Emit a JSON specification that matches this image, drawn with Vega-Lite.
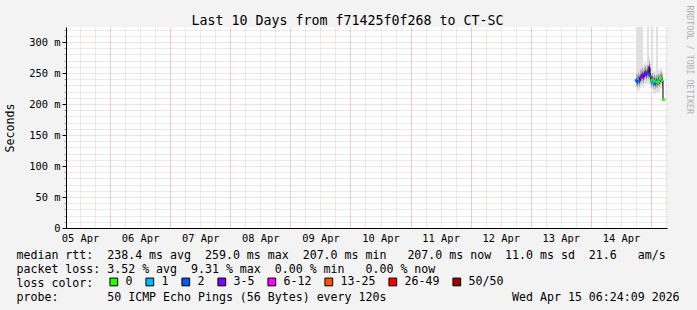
{
  "$schema": "https://vega.github.io/schema/vega-lite/v6.json",
  "width": 601,
  "height": 201,
  "autosize": {"type": "none"},
  "padding": {"left": 66, "top": 27, "right": 30, "bottom": 82},
  "background": "#f3f3f3",
  "config": {"view": {"fill": "#ffffff", "stroke": null}, "font": "DejaVu Sans Mono"},
  "title": {"text": "Last 10 Days from f71425f0f268 to CT-SC", "font": "DejaVu Sans Mono", "fontSize": 13.3, "fontWeight": "normal", "color": "#000000", "anchor": "middle", "frame": "group", "dx": -19, "offset": -22},
  "data": {
    "values": [
      {"t": "2026-04-14T18:00:00Z", "med": 238, "loss": "2", "lo": 222, "hi": 400, "m1": 229, "m2": 249, "i1": 234, "i2": 242},
      {"t": "2026-04-14T18:24:00Z", "med": 236, "loss": "2", "lo": 219, "hi": 400, "m1": 227, "m2": 247, "i1": 232, "i2": 240},
      {"t": "2026-04-14T18:48:00Z", "med": 240, "loss": "1", "lo": 224, "hi": 400, "m1": 231, "m2": 251, "i1": 236, "i2": 244},
      {"t": "2026-04-14T19:12:00Z", "med": 237, "loss": "2", "lo": 221, "hi": 400, "m1": 228, "m2": 248, "i1": 233, "i2": 241},
      {"t": "2026-04-14T19:36:00Z", "med": 242, "loss": "3-5", "lo": 225, "hi": 400, "m1": 233, "m2": 254, "i1": 238, "i2": 246},
      {"t": "2026-04-14T20:00:00Z", "med": 244, "loss": "3-5", "lo": 227, "hi": 400, "m1": 235, "m2": 256, "i1": 240, "i2": 249},
      {"t": "2026-04-14T20:24:00Z", "med": 246, "loss": "3-5", "lo": 229, "hi": 400, "m1": 237, "m2": 258, "i1": 242, "i2": 251},
      {"t": "2026-04-14T20:48:00Z", "med": 243, "loss": "3-5", "lo": 226, "hi": 262, "m1": 234, "m2": 254, "i1": 239, "i2": 248},
      {"t": "2026-04-14T21:12:00Z", "med": 248, "loss": "3-5", "lo": 231, "hi": 266, "m1": 239, "m2": 259, "i1": 244, "i2": 253},
      {"t": "2026-04-14T21:36:00Z", "med": 250, "loss": "3-5", "lo": 233, "hi": 268, "m1": 241, "m2": 261, "i1": 246, "i2": 255},
      {"t": "2026-04-14T22:00:00Z", "med": 247, "loss": "3-5", "lo": 230, "hi": 265, "m1": 238, "m2": 258, "i1": 243, "i2": 252},
      {"t": "2026-04-14T22:24:00Z", "med": 251, "loss": "3-5", "lo": 234, "hi": 400, "m1": 242, "m2": 262, "i1": 247, "i2": 256},
      {"t": "2026-04-14T22:48:00Z", "med": 249, "loss": "2", "lo": 232, "hi": 400, "m1": 240, "m2": 260, "i1": 245, "i2": 254},
      {"t": "2026-04-14T23:12:00Z", "med": 259, "loss": "3-5", "lo": 238, "hi": 276, "m1": 247, "m2": 270, "i1": 253, "i2": 264},
      {"t": "2026-04-14T23:36:00Z", "med": 245, "loss": "2", "lo": 226, "hi": 264, "m1": 235, "m2": 256, "i1": 240, "i2": 250},
      {"t": "2026-04-15T00:00:00Z", "med": 236, "loss": "1", "lo": 219, "hi": 400, "m1": 227, "m2": 248, "i1": 232, "i2": 241},
      {"t": "2026-04-15T00:24:00Z", "med": 239, "loss": "0", "lo": 222, "hi": 400, "m1": 230, "m2": 250, "i1": 235, "i2": 244},
      {"t": "2026-04-15T00:48:00Z", "med": 234, "loss": "1", "lo": 216, "hi": 252, "m1": 225, "m2": 245, "i1": 230, "i2": 239},
      {"t": "2026-04-15T01:12:00Z", "med": 237, "loss": "0", "lo": 219, "hi": 255, "m1": 228, "m2": 248, "i1": 233, "i2": 242},
      {"t": "2026-04-15T01:36:00Z", "med": 233, "loss": "2", "lo": 215, "hi": 251, "m1": 224, "m2": 244, "i1": 229, "i2": 238},
      {"t": "2026-04-15T02:00:00Z", "med": 236, "loss": "1", "lo": 218, "hi": 400, "m1": 227, "m2": 247, "i1": 232, "i2": 241},
      {"t": "2026-04-15T02:24:00Z", "med": 235, "loss": "0", "lo": 217, "hi": 400, "m1": 226, "m2": 246, "i1": 231, "i2": 240},
      {"t": "2026-04-15T02:48:00Z", "med": 238, "loss": "1", "lo": 220, "hi": 256, "m1": 229, "m2": 249, "i1": 234, "i2": 243},
      {"t": "2026-04-15T03:12:00Z", "med": 236, "loss": "0", "lo": 219, "hi": 254, "m1": 228, "m2": 247, "i1": 232, "i2": 241},
      {"t": "2026-04-15T03:36:00Z", "med": 240, "loss": "0", "lo": 224, "hi": 257, "m1": 232, "m2": 250, "i1": 236, "i2": 244},
      {"t": "2026-04-15T04:00:00Z", "med": 242, "loss": "0", "lo": 226, "hi": 258, "m1": 234, "m2": 252, "i1": 238, "i2": 246},
      {"t": "2026-04-15T04:24:00Z", "med": 238, "loss": "0", "lo": 222, "hi": 254, "m1": 230, "m2": 248, "i1": 234, "i2": 242},
      {"t": "2026-04-15T04:48:00Z", "med": 207, "loss": "0", "lo": 205, "hi": 210, "m1": 206, "m2": 208, "i1": 206, "i2": 208},
      {"t": "2026-04-15T05:12:00Z", "med": 207, "loss": "0", "lo": 205, "hi": 210, "m1": 206, "m2": 208, "i1": 206, "i2": 208}
    ]
  },
  "layer": [
    {
      "mark": {"type": "area", "color": "#e0e0e0", "interpolate": "step-after", "clip": true},
      "encoding": {
        "x": {"field": "t", "type": "temporal",
          "scale": {"type": "utc", "nice": false, "domain": [1775370249000, 1776234249000]},
          "axis": {"orient": "bottom", "values": [1775390400000, 1775412000000, 1775433600000, 1775455200000, 1775476800000, 1775498400000, 1775520000000, 1775541600000, 1775563200000, 1775584800000, 1775606400000, 1775628000000, 1775649600000, 1775671200000, 1775692800000, 1775714400000, 1775736000000, 1775757600000, 1775779200000, 1775800800000, 1775822400000, 1775844000000, 1775865600000, 1775887200000, 1775908800000, 1775930400000, 1775952000000, 1775973600000, 1775995200000, 1776016800000, 1776038400000, 1776060000000, 1776081600000, 1776103200000, 1776124800000, 1776146400000, 1776168000000, 1776189600000, 1776211200000, 1776232800000], "grid": true, "gridColor": "#000000", "gridOpacity": 0.16, "gridDash": [1, 1], "labels": false, "ticks": false, "tickSize": 0, "domain": false, "title": null}},
        "y": {"field": "lo", "type": "quantitative",
          "scale": {"domain": [0, 324.2], "nice": false, "zero": false},
          "axis": {"orient": "left", "values": [10, 20, 30, 40, 60, 70, 80, 90, 110, 120, 130, 140, 160, 170, 180, 190, 210, 220, 230, 240, 260, 270, 280, 290, 310, 320], "grid": true, "gridColor": "#000000", "gridOpacity": 0.16, "gridDash": [1, 1], "labels": false, "ticks": true, "tickSize": 2, "tickColor": "#999999", "domain": false, "title": null}},
        "y2": {"field": "hi"}
      }
    },
    {
      "mark": {"type": "area", "color": "#a8a8a8", "interpolate": "step-after", "clip": true},
      "encoding": {
        "x": {"field": "t", "type": "temporal",
          "scale": {"type": "utc", "nice": false, "domain": [1775370249000, 1776234249000]},
          "axis": {"orient": "bottom", "values": [1775433600000, 1775520000000, 1775606400000, 1775692800000, 1775779200000, 1775865600000, 1775952000000, 1776038400000, 1776124800000, 1776211200000], "grid": true, "gridColor": "#ff0000", "gridOpacity": 0.25, "gridDash": [1, 1], "labels": false, "ticks": false, "tickSize": 0, "domain": true, "domainColor": "#000000", "domainWidth": 1, "title": null}},
        "y": {"field": "m1", "type": "quantitative",
          "scale": {"domain": [0, 324.2], "nice": false, "zero": false},
          "axis": {"orient": "left", "values": [0, 50, 100, 150, 200, 250, 300], "grid": true, "gridColor": "#ff0000", "gridOpacity": 0.25, "gridDash": [1, 1],
            "labelExpr": "datum.value == 0 ? '0' : datum.value + ' m'", "labelFont": "DejaVu Sans Mono", "labelFontSize": 10.4, "labelColor": "#000000", "labelPadding": 2,
            "ticks": true, "tickSize": 4, "tickColor": "#000000", "domain": true, "domainColor": "#000000",
            "title": "Seconds", "titleFont": "DejaVu Sans Mono", "titleFontSize": 11.6, "titleFontWeight": "normal", "titleColor": "#000000", "titleAngle": -90, "titleX": -56, "titleY": 100.5, "titleAlign": "center", "titleBaseline": "middle"}},
        "y2": {"field": "m2"}
      }
    },
    {
      "mark": {"type": "area", "color": "#555555", "interpolate": "step-after", "clip": true},
      "encoding": {
        "x": {"field": "t", "type": "temporal",
          "scale": {"type": "utc", "nice": false, "domain": [1775370249000, 1776234249000]},
          "axis": {"orient": "bottom", "values": [1775390400000, 1775476800000, 1775563200000, 1775649600000, 1775736000000, 1775822400000, 1775908800000, 1775995200000, 1776081600000, 1776168000000], "labelExpr": "utcFormat(datum.value, '%d %b')", "grid": false, "ticks": false, "tickSize": 0, "domain": false,
            "labelFont": "DejaVu Sans Mono", "labelFontSize": 10.4, "labelColor": "#000000", "labelPadding": 5.5, "labelOverlap": false, "labelFlush": false, "labelBound": false,
            "title": [
              "median rtt:\u00a0\u00a0238.4 ms avg\u00a0\u00a0259.0 ms max\u00a0\u00a0207.0 ms min\u00a0\u00a0\u00a0207.0 ms now\u00a0\u00a011.0 ms sd\u00a0\u00a021.6\u00a0\u00a0\u00a0am/s",
              "packet loss: 3.52 % avg\u00a0\u00a09.31 % max\u00a0\u00a00.00 % min\u00a0\u00a0\u00a00.00 % now",
              "loss color:",
              "probe:\u00a0\u00a0\u00a0\u00a0\u00a0\u00a0\u00a050 ICMP Echo Pings (56 Bytes) every 120s\u00a0\u00a0\u00a0\u00a0\u00a0\u00a0\u00a0\u00a0\u00a0\u00a0\u00a0\u00a0\u00a0\u00a0\u00a0\u00a0\u00a0\u00a0Wed Apr 15 06:24:09 2026"
            ],
            "titleFont": "DejaVu Sans Mono", "titleFontSize": 11.6, "titleFontWeight": "normal", "titleColor": "#000000", "titleX": -50, "titleY": 21, "titleAlign": "left", "titleAnchor": "start", "titleBaseline": "top", "titleLineHeight": 14}},
        "y": {"field": "i1", "type": "quantitative",
          "scale": {"domain": [0, 324.2], "nice": false, "zero": false},
          "axis": {"orient": "right", "grid": false, "labels": false, "ticks": false, "domain": false,
            "title": "RRDTOOL / TOBI OETIKER", "titleFont": "DejaVu Sans Mono", "titleFontSize": 8.2, "titleFontWeight": "normal", "titleColor": "#b0b0b0", "titleAngle": 90, "titleX": 21.5, "titleY": -22, "titleAlign": "left", "titleBaseline": "middle"}},
        "y2": {"field": "i2"}
      }
    },
    {
      "mark": {"type": "line", "interpolate": "step-after", "color": "#000000", "strokeWidth": 1, "clip": true},
      "encoding": {
        "x": {"field": "t", "type": "temporal", "axis": null,
          "scale": {"type": "utc", "nice": false, "domain": [1775370249000, 1776234249000]}},
        "y": {"field": "med", "type": "quantitative", "axis": null, "scale": {"domain": [0, 324.2], "nice": false, "zero": false}}
      }
    },
    {
      "mark": {"type": "point", "shape": "square", "filled": true, "size": 5, "opacity": 1, "clip": true},
      "encoding": {
        "x": {"field": "t", "type": "temporal", "axis": null,
          "scale": {"type": "utc", "nice": false, "domain": [1775370249000, 1776234249000]}},
        "y": {"field": "med", "type": "quantitative", "axis": null, "scale": {"domain": [0, 324.2], "nice": false, "zero": false}},
        "fill": {"field": "loss", "type": "nominal",
          "scale": {"domain": ["0", "1", "2", "3-5", "6-12", "13-25", "26-49", "50/50"], "range": ["#26ff00", "#00b8ff", "#0059ff", "#7e00ff", "#ff00ff", "#ff5500", "#ff0000", "#a10000"]},
          "legend": {"orient": "none", "legendX": 42, "legendY": 249, "direction": "horizontal", "title": null, "padding": 0,
            "symbolType": "square", "symbolSize": 60, "symbolStrokeWidth": 1, "symbolStrokeColor": "#000000", "symbolOpacity": 1,
            "labelFont": "DejaVu Sans Mono", "labelFontSize": 11.6, "labelColor": "#000000", "labelOffset": 6, "columnPadding": 10}}
      }
    }
  ],
  "resolve": {"axis": {"x": "independent", "y": "independent"}}
}
